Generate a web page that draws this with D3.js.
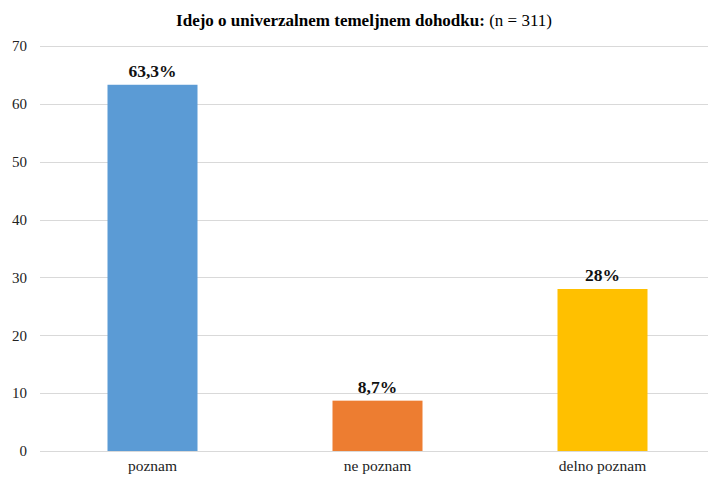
<!DOCTYPE html>
<html>
<head>
<meta charset="utf-8">
<script src="https://cdn.jsdelivr.net/npm/d3@7"></script>
<style>
  body { margin: 0; background: #fff; }
</style>
</head>
<body>
<div id="chart"></div>
<script>
var svgWidth = 708;
var svgHeight = 479;
var serifFont = "'Times New Roman', 'Liberation Serif', Tinos, 'DejaVu Serif', serif";

// data
var categories = ["poznam", "ne poznam", "delno poznam"];
var values = [63.3, 8.7, 28];
var valueLabels = ["63,3%", "8,7%", "28%"];
var colors = ["#5B9BD5", "#ED7D31", "#FFC000"];
var yTicks = [0, 10, 20, 30, 40, 50, 60, 70];

var margin = { top: 46, bottom: 28, left: 40, right: -7 };
var width = svgWidth - margin.left - margin.right;
var height = svgHeight - margin.top - margin.bottom;

var svg = d3.select("#chart")
    .append("svg")
    .attr("width", svgWidth)
    .attr("height", svgHeight)
    .attr("font-family", serifFont);

// title
var title = svg.append("text")
    .attr("x", 364)
    .attr("y", 26)
    .attr("text-anchor", "middle")
    .attr("font-family", serifFont)
    .style("font-size", "17px")
    .style("fill", "#000");
title.append("tspan").style("font-weight", "bold").text("Idejo o univerzalnem temeljnem dohodku: ");
title.append("tspan").text("(n = 311)");

var chartGroup = svg.append("g")
    .attr("transform", `translate(${margin.left}, ${margin.top})`);

var x = d3.scaleBand()
    .domain(categories)
    .range([0, width])
    .paddingInner(0.6)
    .paddingOuter(0.3);

var y = d3.scaleLinear()
    .domain([0, 70])
    .range([height, 0]);

// gridlines
chartGroup.append("g")
    .selectAll("line")
    .data(yTicks)
    .enter()
    .append("line")
    .attr("x1", 0)
    .attr("x2", width)
    .attr("y1", d => Math.round(y(d)) + 0.5)
    .attr("y2", d => Math.round(y(d)) + 0.5)
    .attr("stroke", "#d9d9d9")
    .attr("stroke-width", 1);

// y axis labels
var leftAxis = d3.axisLeft(y).tickValues(yTicks).tickSize(0).tickPadding(13);
var yAxis = chartGroup.append("g").call(leftAxis)
    .attr("font-family", serifFont)
    .attr("font-size", 15);
yAxis.select(".domain").remove();
yAxis.selectAll("text").attr("fill", "#222");

// bars
chartGroup.selectAll("rect.bar")
    .data(values)
    .enter()
    .append("rect")
    .classed("bar", true)
    .attr("x", (d, i) => x(categories[i]))
    .attr("y", d => y(d))
    .attr("width", x.bandwidth())
    .attr("height", d => height - y(d))
    .attr("fill", (d, i) => colors[i]);

// value labels
chartGroup.selectAll("text.val")
    .data(values)
    .enter()
    .append("text")
    .classed("val", true)
    .attr("x", (d, i) => x(categories[i]) + x.bandwidth() / 2)
    .attr("y", d => y(d) - 8)
    .attr("text-anchor", "middle")
    .attr("font-family", serifFont)
    .style("font-size", "17.5px")
    .style("font-weight", "bold")
    .style("fill", "#111")
    .text((d, i) => valueLabels[i]);

// x axis labels
var bottomAxis = d3.axisBottom(x).tickSize(0).tickPadding(9);
var xAxis = chartGroup.append("g")
    .attr("transform", `translate(0, ${height})`)
    .call(bottomAxis)
    .attr("font-family", serifFont)
    .attr("font-size", 15.5);
xAxis.select(".domain").remove();
xAxis.selectAll("text").attr("fill", "#222");
</script>
</body>
</html>
